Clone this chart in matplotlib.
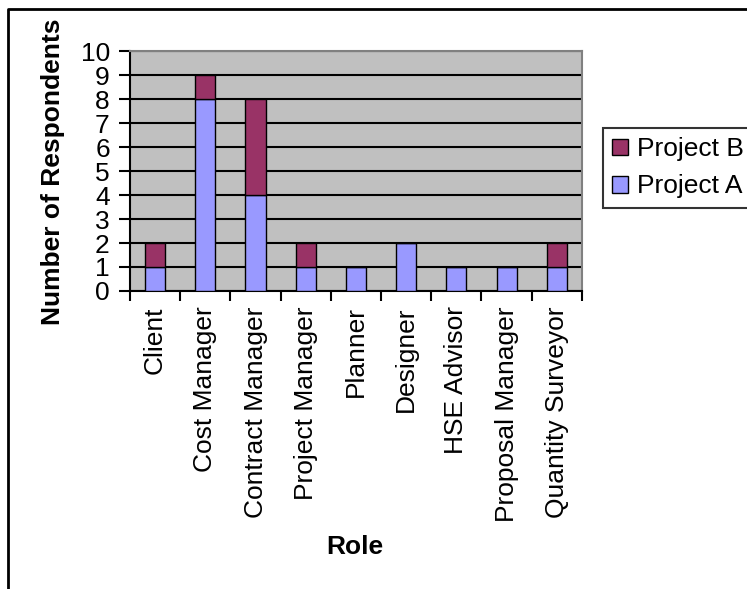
import numpy as np
import matplotlib.pyplot as plt
from matplotlib.lines import Line2D

plt.rcParams['font.family'] = ['Liberation Sans', 'DejaVu Sans']

roles = ['Client', 'Cost Manager', 'Contract Manager', 'Project Manager', 'Planner',
         'Designer', 'HSE Advisor', 'Proposal Manager', 'Quantity Surveyor']
project_a = [1, 8, 4, 1, 1, 2, 1, 1, 1]
project_b = [1, 1, 4, 1, 0, 0, 0, 0, 1]

FS = 19

fig = plt.figure(figsize=(7.47, 5.89), dpi=100)
ax = fig.add_axes([0.174, 0.506, 0.605, 0.407])

x = np.arange(len(roles))
ax.bar(x, project_a, width=0.4, color='#9999FF', edgecolor='black', linewidth=1, zorder=3,
       label='Project A')
ax.bar(x, project_b, width=0.4, bottom=project_a, color='#993366', edgecolor='black',
       linewidth=1, zorder=3, label='Project B')

ax.set_facecolor('#C0C0C0')
ax.set_xlim(-0.5, len(roles) - 0.5)
ax.set_ylim(0, 10)
ax.set_yticks(range(0, 11))
ax.yaxis.grid(True, color='black', linewidth=1.5, zorder=1)
ax.set_axisbelow(True)

ax.set_xticks(x)
ax.set_xticklabels(roles, rotation=90, fontsize=FS)
ax.set_xticks(np.arange(-0.5, len(roles)), minor=True)
ax.tick_params(axis='x', which='major', length=0, pad=11)
ax.tick_params(axis='x', which='minor', length=7, width=1.5, direction='out')
ax.tick_params(axis='y', length=8, width=1.5, labelsize=FS, pad=6.5)

for side in ['top', 'right']:
    ax.spines[side].set_color('#808080')
    ax.spines[side].set_linewidth(1.5)
for side in ['left', 'bottom']:
    ax.spines[side].set_linewidth(1.5)

fig.text(53 / 747, 1 - 172 / 589, 'Number of Respondents', rotation=90, fontsize=FS,
         fontweight='bold', ha='center', va='center')
fig.text(355 / 747, 1 - 547 / 589, 'Role', fontsize=FS, fontweight='bold',
         ha='center', va='center')

handles, labels = ax.get_legend_handles_labels()
leg = fig.legend(handles[::-1], labels[::-1], loc='upper left',
                 bbox_to_anchor=(603 / 747, 1 - 128 / 589),
                 fontsize=FS, frameon=True, fancybox=False, edgecolor='black',
                 handlelength=0.6, handleheight=0.6, handletextpad=0.35, borderpad=0.35,
                 labelspacing=0.5, borderaxespad=0)
leg.get_frame().set_linewidth(1.5)

# outer chart border (runs off the right and bottom edges)
fig.add_artist(Line2D([8 / 747, 8 / 747, 1.2], [-0.2, 1 - 9 / 589, 1 - 9 / 589],
                      transform=fig.transFigure, color='black', linewidth=2))

fig.savefig('out.png', dpi=100)
